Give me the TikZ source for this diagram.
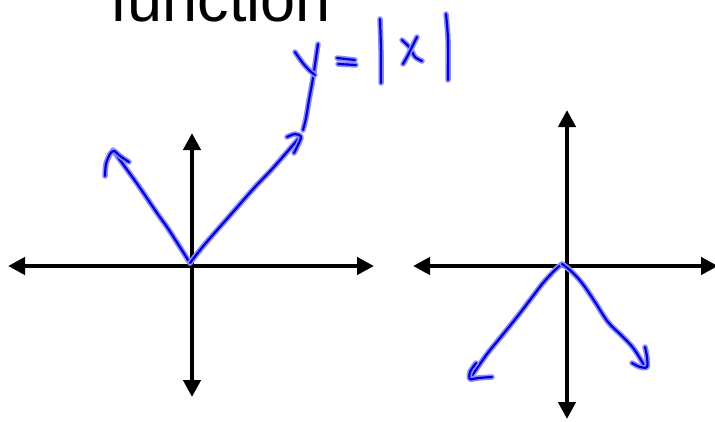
\documentclass[tikz,border=0pt]{standalone}
\usepackage{fontspec}
\setmainfont{Liberation Sans}
\usetikzlibrary{arrows.meta}
\tikzset{
  axis/.style={draw=black, line width=4.5pt, {Triangle[length=17pt,width=17pt]}-{Triangle[length=17pt,width=17pt]}},
  ink/.style={draw=blue!85!black, line width=2.2pt, line cap=round, line join=round,
    preaction={draw=blue!45, line width=5.5pt, line cap=round, line join=round}},
  titletext/.style={anchor=base west, inner sep=0pt, font=\fontsize{63}{63}\selectfont}
}
\begin{document}
\begin{tikzpicture}[x=1pt,y=-1pt]
\clip (0,0) rectangle (715,421);
\fill[white] (0,0) rectangle (715,421);
% title
\node[titletext] (title) at (110,21) {function};
% left axes
\coordinate (L1) at (8,266);
\coordinate (L2) at (374,266);
\coordinate (L3) at (192,133);
\coordinate (L4) at (192,397);
\draw[axis] (L1) -- (L2);
\draw[axis] (L3) -- (L4);
% right axes
\coordinate (R1) at (413,266);
\coordinate (R2) at (718,266);
\coordinate (R3) at (567,110);
\coordinate (R4) at (567,419);
\draw[axis] (R1) -- (R2);
\draw[axis] (R3) -- (R4);
% left blue graph y=|x|
\coordinate (O1) at (190,263);
\draw[ink] plot[smooth, tension=0.5] coordinates {(O1) (178,244) (167,227) (157,213) (138,185) (120,160) (113,150)};
\draw[ink] plot[smooth, tension=0.5] coordinates {(105,176) (106,164) (110,154) (114,151) (120,156) (129,162)};
\draw[ink] plot[smooth, tension=0.5] coordinates {(O1) (205,244) (233,212) (255,187) (273,168) (300,137)};
\draw[ink] plot[smooth, tension=0.5] coordinates {(287,137) (295,134) (301,137) (297,147) (294,153)};
\draw[ink] plot[smooth, tension=0.5] coordinates {(303,130) (306,118) (309,100) (313,78) (318,44)};
% label y = |x|
\draw[ink] plot[smooth, tension=0.5] coordinates {(295,52) (302,62) (309,70) (315,75)};
\draw[ink] (337,58) -- (355,60);
\draw[ink] (338,64) -- (356,65);
\draw[ink] plot[smooth, tension=0.5] coordinates {(380,19) (381,50) (381,83)};
\draw[ink] plot[smooth, tension=0.5] coordinates {(402,40) (410,48) (415,57) (422,61)};
\draw[ink] plot[smooth, tension=0.5] coordinates {(417,37) (412,47) (407,57) (403,64)};
\draw[ink] plot[smooth, tension=0.5] coordinates {(446,14) (448,40) (448,80)};
% right blue graph y=-|x|
\coordinate (O2) at (562,264);
\draw[ink] plot[smooth, tension=0.5] coordinates {(O2) (555,270) (543,283) (530,300) (517,317) (500,338) (487,354) (471,377)};
\draw[ink] plot[smooth, tension=0.5] coordinates {(476,363) (470,372) (470,379) (478,378) (492,377)};
\draw[ink] plot[smooth, tension=0.6] coordinates {(O2) (571,271) (582,283) (595,302) (608,322) (622,336) (634,349) (645,367)};
\draw[ink] plot[smooth, tension=0.5] coordinates {(645,347) (647,357) (647,367) (640,367) (632,363)};
\end{tikzpicture}
\end{document}
